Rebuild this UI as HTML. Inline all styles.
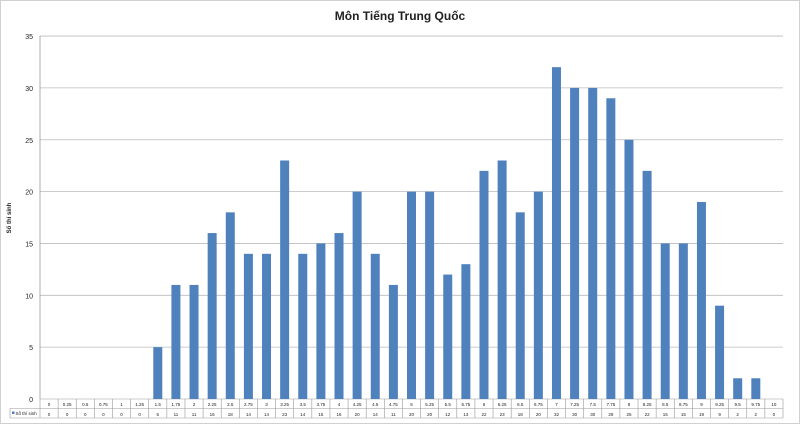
<!DOCTYPE html><html><head><meta charset="utf-8"><style>body{margin:0;background:#fff}</style></head><body>
<svg width="800" height="424" xmlns="http://www.w3.org/2000/svg" font-family="Liberation Sans, sans-serif">
<rect x="0.5" y="0.5" width="799" height="423" fill="#fff" stroke="#d0d0d0"/>
<text x="400" y="20" text-anchor="middle" font-size="12" font-weight="bold" fill="#222">Môn Tiếng Trung Quốc</text>
<text transform="translate(11,218) rotate(-90)" text-anchor="middle" font-size="6" font-weight="bold" fill="#222">Số thí sinh</text>
<g id="g"></g>
</svg>
<script>
var v=[0,0,0,0,0,0,5,11,11,16,18,14,14,23,14,15,16,20,14,11,20,20,12,13,22,23,18,20,32,30,30,29,25,22,15,15,19,9,2,2,0];
var ns="http://www.w3.org/2000/svg",g=document.getElementById("g");
function el(t,a,txt){var e=document.createElementNS(ns,t);for(var k in a)e.setAttribute(k,a[k]);if(txt!=null)e.textContent=txt;g.appendChild(e);}
var L=40,R=783,y0=399,s=10.37,w=(R-L)/41;
for(var i=0;i<=7;i++){var y=y0-i*5*s;el("line",{x1:L,x2:R,y1:y,y2:y,stroke:"#bbb","stroke-width":0.8});el("text",{x:33,y:y+3,"text-anchor":"end","font-size":7,fill:"#222"},i*5);}
el("line",{x1:L,x2:L,y1:36,y2:y0,stroke:"#999","stroke-width":0.8});
for(var i=0;i<41;i++){var cx=L+w*(i+.5),h=v[i]*s;
if(h)el("rect",{x:cx-4.5,y:y0-h,width:9,height:h,fill:"#4f81bd"});
el("text",{x:cx,y:406,"text-anchor":"middle","font-size":4.5,fill:"#222"},String(i*0.25));
el("text",{x:cx,y:416,"text-anchor":"middle","font-size":4.5,fill:"#222"},v[i]);
el("line",{x1:L+w*i,x2:L+w*i,y1:399,y2:418,stroke:"#999","stroke-width":0.6});}
el("line",{x1:R,x2:R,y1:399,y2:418,stroke:"#999","stroke-width":0.6});
el("line",{x1:L,x2:R,y1:408.5,y2:408.5,stroke:"#999","stroke-width":0.6});
el("line",{x1:10,x2:R,y1:418,y2:418,stroke:"#999","stroke-width":0.6});
el("line",{x1:10,x2:10,y1:408.5,y2:418,stroke:"#999","stroke-width":0.6});
el("line",{x1:10,x2:L,y1:408.5,y2:408.5,stroke:"#999","stroke-width":0.6});
el("rect",{x:12,y:411.5,width:2.5,height:2.5,fill:"#4f81bd"});
el("text",{x:15.5,y:415,"font-size":4.5,fill:"#222"},"Số thí sinh");
</script>
</body></html>
